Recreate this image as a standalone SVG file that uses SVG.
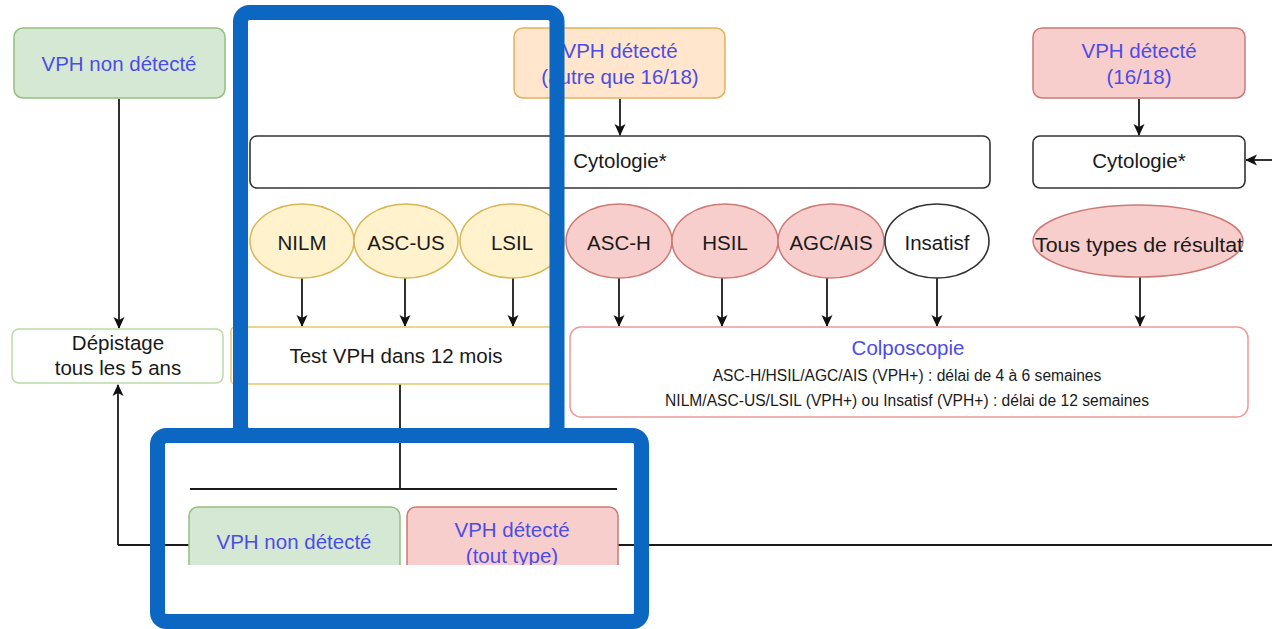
<svg xmlns="http://www.w3.org/2000/svg" width="1272" height="629" viewBox="0 0 1272 629">
<defs>
<marker id="arr" viewBox="0 0 12 12" refX="11" refY="6" markerWidth="12" markerHeight="12" markerUnits="userSpaceOnUse" orient="auto">
<path d="M0,0.5 L12,6 L0,11.5 L3,6 z" fill="#111"/>
</marker>
<style>
text{font-family:"Liberation Sans",Arial,sans-serif;font-size:20.5px;fill:#1a1a1a;text-anchor:middle}
.b{fill:#4c4ce6}
.sm{font-size:15.6px}
.green{fill:#d5e8d4;stroke:#93c07f;stroke-width:1.5}
.orange{fill:#ffe6cc;stroke:#e2b35a;stroke-width:1.5}
.red{fill:#f8cecc;stroke:#cc7a76;stroke-width:1.5}
.yel{fill:#fff2cc;stroke:#d6b656;stroke-width:1.5}
.plain{fill:#fff;stroke:#333;stroke-width:1.6}
.c{fill:none;stroke:#1a1a1a;stroke-width:1.8}
.a{fill:none;stroke:#1a1a1a;stroke-width:1.8;marker-end:url(#arr)}
.frame{fill:none;stroke:#0b67c1;stroke-width:15}
</style>
</defs>
<rect width="1272" height="629" fill="#fff"/>

<g id="connectors">
<path class="a" d="M119,99 V328"/>
<path class="a" d="M620,99 V135"/>
<path class="a" d="M1139,99 V135"/>
<path class="a" d="M1272,160 H1246"/>
<path class="a" d="M302,278 V326"/>
<path class="a" d="M405,278 V326"/>
<path class="a" d="M513,278 V326"/>
<path class="a" d="M619,278 V326"/>
<path class="a" d="M722,278 V326"/>
<path class="a" d="M827,278 V326"/>
<path class="a" d="M937,278 V326"/>
<path class="a" d="M1140,277 V326"/>
<path class="a" d="M118,545 V385"/>
<path class="c" d="M118,545 H190"/>
<path class="c" d="M618,545 H1272"/>
<path class="c" d="M400,384 V489"/>
<path class="c" d="M190,489 H617"/>
</g>

<g id="n-vph-non-top"><rect class="green" x="14" y="28" width="211" height="70" rx="9"/><text class="b" x="119" y="71">VPH non détecté</text></g>
<g id="n-vph-autre"><rect class="orange" x="514" y="28" width="211" height="70" rx="9"/><text class="b" x="620" y="58">VPH détecté</text><text class="b" x="620" y="84">(autre que 16/18)</text></g>
<g id="n-vph-1618"><rect class="red" x="1033" y="28" width="212" height="70" rx="9"/><text class="b" x="1139" y="58">VPH détecté</text><text class="b" x="1139" y="84">(16/18)</text></g>
<g id="n-cyto"><rect class="plain" x="250" y="136" width="740" height="52" rx="7"/><text x="620" y="168">Cytologie*</text></g>
<g id="n-cyto2"><rect class="plain" x="1033" y="136" width="212" height="52" rx="7"/><text x="1139" y="168">Cytologie*</text></g>

<g id="n-nilm"><ellipse class="yel" cx="302" cy="241" rx="52" ry="37"/><text x="302" y="250">NILM</text></g>
<g id="n-ascus"><ellipse class="yel" cx="406" cy="241" rx="52" ry="37"/><text x="406" y="250">ASC-US</text></g>
<g id="n-lsil"><ellipse class="yel" cx="512" cy="241" rx="52" ry="37"/><text x="512" y="250">LSIL</text></g>
<g id="n-asch"><ellipse class="red" cx="619" cy="241" rx="53" ry="37"/><text x="619" y="250">ASC-H</text></g>
<g id="n-hsil"><ellipse class="red" cx="725" cy="241" rx="53" ry="37"/><text x="725" y="250">HSIL</text></g>
<g id="n-agc"><ellipse class="red" cx="831" cy="241" rx="53" ry="37"/><text x="831" y="250">AGC/AIS</text></g>
<g id="n-insatisf"><ellipse class="plain" cx="937" cy="241" rx="52" ry="37"/><text x="937" y="250">Insatisf</text></g>
<g id="n-tous"><ellipse class="red" cx="1138" cy="241" rx="105" ry="36"/><text x="1139" y="252" textLength="208" lengthAdjust="spacingAndGlyphs">Tous types de résultat</text></g>

<g id="n-depistage"><rect x="12" y="329" width="211" height="54" rx="7" fill="#fff" stroke="#b9dca5" stroke-width="1.5"/><text x="118" y="350">Dépistage</text><text x="118" y="375">tous les 5 ans</text></g>
<g id="n-test"><rect x="231" y="327" width="332" height="57" rx="4" fill="#fff" stroke="#e6c66e" stroke-width="1.5"/><text x="396" y="363">Test VPH dans 12 mois</text></g>
<g id="n-colpo"><rect x="570" y="327" width="678" height="90" rx="11" fill="#fff" stroke="#ee9a97" stroke-width="1.5"/><text class="b" x="908" y="355">Colposcopie</text><text class="sm" x="907" y="381">ASC-H/HSIL/AGC/AIS (VPH+) : délai de 4 à 6 semaines</text><text class="sm" x="907" y="406">NILM/ASC-US/LSIL (VPH+) ou Insatisf (VPH+) : délai de 12 semaines</text></g>

<g id="n-vph-non-bottom"><rect class="green" x="189" y="507" width="211" height="80" rx="9"/><text class="b" x="294" y="549">VPH non détecté</text></g>
<g id="n-vph-tout"><rect class="red" x="407" y="507" width="211" height="80" rx="9"/><text class="b" x="512" y="537">VPH détecté</text><text class="b" x="512" y="563">(tout type)</text></g>

<rect x="165" y="565" width="470" height="52" fill="#fff"/>

<g id="frames">
<rect class="frame" x="240.5" y="12.5" width="316.5" height="423" rx="9"/>
<rect class="frame" x="157.5" y="435.5" width="484" height="186" rx="9"/>
</g>
</svg>
